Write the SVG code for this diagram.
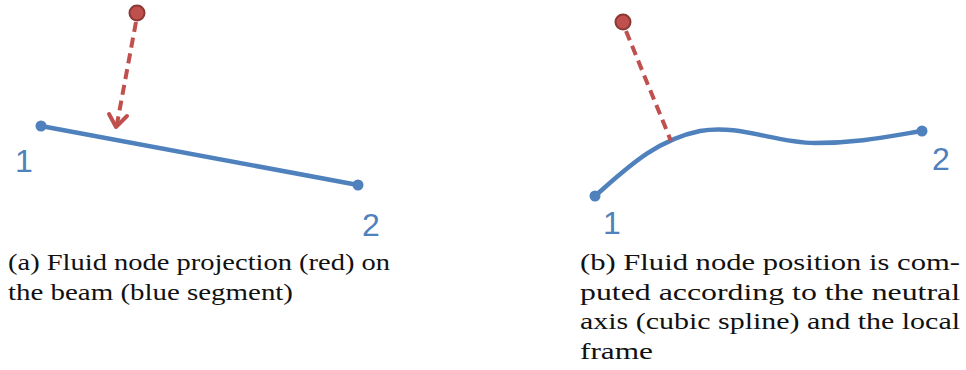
<svg xmlns="http://www.w3.org/2000/svg" width="966" height="370" viewBox="0 0 966 370">
<style>
.beam{fill:none;stroke:#4f81bd;stroke-width:4.5;stroke-linecap:round}
.bdot{fill:#4f81bd}
.fluid{fill:#c0504d;stroke:#8c3836;stroke-width:2}
.dash{fill:none;stroke:#c0504d;stroke-width:4;stroke-dasharray:10,6}
.num{font-family:"Liberation Sans","DejaVu Sans",sans-serif;font-size:32px;fill:#4f81bd}
.cap{font-family:"Liberation Serif","DejaVu Serif",serif;font-size:24px;fill:#111}
</style>
<g id="panel-a">
<g id="connectors-a">
<line class="beam" x1="41" y1="126" x2="358" y2="185"/>
<path class="dash" d="M136,22 L117,124"/>
<path d="M109,114 L116,127 L127,116" fill="none" stroke="#c0504d" stroke-width="4" stroke-linecap="round" stroke-linejoin="round"/>
</g>
<g id="a-node1"><circle class="bdot" cx="41" cy="126" r="5.5"/><text class="num" x="15" y="172">1</text></g>
<g id="a-node2"><circle class="bdot" cx="358" cy="185" r="5.5"/><text class="num" x="362" y="236">2</text></g>
<g id="a-fluid"><circle class="fluid" cx="137" cy="13" r="7.5"/></g>
<text class="cap" x="8" y="270" textLength="382" lengthAdjust="spacingAndGlyphs">(a) Fluid node projection (red) on</text>
<text class="cap" x="8" y="300" textLength="285" lengthAdjust="spacingAndGlyphs">the beam (blue segment)</text>
</g>
<g id="panel-b">
<g id="connectors-b">
<path class="beam" d="M595,196 C625,170 655,140 700,131 C740,124 775,143 815,143 C860,143 890,136 922,131"/>
<path class="dash" d="M626,31 L671,141"/>
</g>
<g id="b-node1"><circle class="bdot" cx="595" cy="196" r="5.5"/><text class="num" x="603" y="234">1</text></g>
<g id="b-node2"><circle class="bdot" cx="922" cy="131" r="5.5"/><text class="num" x="932" y="170">2</text></g>
<g id="b-fluid"><circle class="fluid" cx="623" cy="22" r="7.5"/></g>
<text class="cap" x="580" y="270" textLength="380" lengthAdjust="spacingAndGlyphs">(b) Fluid node position is com-</text>
<text class="cap" x="580" y="300" textLength="380" lengthAdjust="spacingAndGlyphs">puted according to the neutral</text>
<text class="cap" x="580" y="329" textLength="380" lengthAdjust="spacingAndGlyphs">axis (cubic spline) and the local</text>
<text class="cap" x="580" y="359" textLength="73" lengthAdjust="spacingAndGlyphs">frame</text>
</g>
</svg>
